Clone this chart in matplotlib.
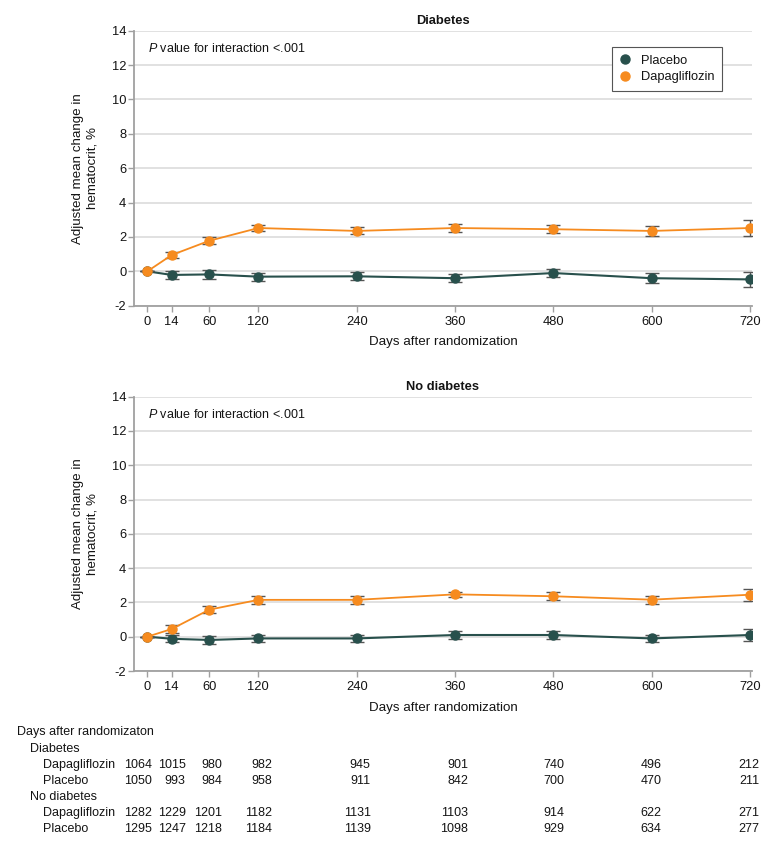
import numpy as np
import matplotlib
matplotlib.use("Agg")
import matplotlib.pyplot as plt
import matplotlib.transforms as mtransforms
from matplotlib.lines import Line2D

plt.rcParams["font.family"] = ["Liberation Sans", "DejaVu Sans"]
plt.rcParams["mathtext.fontset"] = "custom"
plt.rcParams["mathtext.it"] = "Liberation Sans:italic"
plt.rcParams["axes.unicode_minus"] = False

# data
days = [0, 14, 60, 120, 240, 360, 480, 600, 720]

diab_dapa = [0, 0.95, 1.78, 2.52, 2.35, 2.52, 2.45, 2.35, 2.52]
diab_dapa_err = [0, 0.2, 0.19, 0.2, 0.2, 0.26, 0.22, 0.29, 0.44]
diab_plac = [0, -0.21, -0.18, -0.31, -0.29, -0.40, -0.10, -0.40, -0.47]
diab_plac_err = [0, 0.25, 0.25, 0.23, 0.23, 0.22, 0.25, 0.28, 0.43]

nodiab_dapa = [0, 0.45, 1.58, 2.15, 2.15, 2.47, 2.36, 2.16, 2.45]
nodiab_dapa_err = [0, 0.23, 0.22, 0.23, 0.22, 0.16, 0.24, 0.23, 0.35]
nodiab_plac = [0, -0.12, -0.19, -0.1, -0.1, 0.1, 0.1, -0.1, 0.1]
nodiab_plac_err = [0, 0.21, 0.22, 0.21, 0.2, 0.24, 0.25, 0.22, 0.34]

# patients at risk
n_diab_dapa = [1064, 1015, 980, 982, 945, 901, 740, 496, 212]
n_diab_plac = [1050, 993, 984, 958, 911, 842, 700, 470, 211]
n_nodiab_dapa = [1282, 1229, 1201, 1182, 1131, 1103, 914, 622, 271]
n_nodiab_plac = [1295, 1247, 1218, 1184, 1139, 1098, 929, 634, 277]

c_plac = "#28504c"
c_dapa = "#f68b1f"
c_err = "#555555"
c_spine = "#a0a0a0"
c_text = "#141414"
fs = 9.3

# uneven spacing of the day axis (early visits are stretched)
knot_days = np.array([-140, 0, 14, 60, 120, 840])
knot_pos = np.array([-2.5, 0, 0.248, 0.631, 1.129, 7.129])


def fwd(x):
    return np.interp(x, knot_days, knot_pos)


def inv(p):
    return np.interp(p, knot_pos, knot_days)


fig = plt.figure(figsize=(7.8, 8.47), dpi=100)
W, H = 780, 847


def px_axes(left, top, right, bottom):
    return fig.add_axes([left / W, 1 - bottom / H, (right - left) / W, (bottom - top) / H])


ax1 = px_axes(134, 30.7, 752, 305.7)
ax2 = px_axes(134, 396.7, 752, 671)

panels = [
    (ax1, "Diabetes", diab_plac, diab_plac_err, diab_dapa, diab_dapa_err),
    (ax2, "No diabetes", nodiab_plac, nodiab_plac_err, nodiab_dapa, nodiab_dapa_err),
]

for ax, title, plac, plac_err, dapa, dapa_err in panels:
    ax.set_xscale("function", functions=(fwd, inv))
    ax.errorbar(days, plac, yerr=plac_err, fmt="o-", color=c_plac, ecolor=c_err,
                elinewidth=1, capsize=5, capthick=1, markersize=6.5, lw=1.5, zorder=3)
    ax.errorbar(days, dapa, yerr=dapa_err, fmt="o-", color=c_dapa, ecolor=c_err,
                elinewidth=1, capsize=5, capthick=1, markersize=6.5, lw=1.3, zorder=4)
    ax.set_xlim(-7.6, 722.4)
    ax.set_ylim(-2, 14)
    ax.set_yticks(range(-2, 15, 2))
    ax.set_xticks(days)
    ax.set_xticklabels([str(d) for d in days])
    ax.yaxis.grid(True, color="#dedede", lw=1.3)
    ax.set_axisbelow(True)
    for s in ["top", "right"]:
        ax.spines[s].set_visible(False)
    for s in ["left", "bottom"]:
        ax.spines[s].set_color(c_spine)
        ax.spines[s].set_linewidth(1.3)
    ax.tick_params(axis="both", colors=c_spine, labelcolor=c_text, labelsize=fs,
                   length=4.5, width=1)
    ax.tick_params(axis="y", pad=1)
    ax.tick_params(axis="x", pad=3)
    ax.set_xlabel("Days after randomization", fontsize=fs + 0.3, color=c_text, labelpad=6)
    ax.text(0.5, 1 + 10 / 275, title, transform=ax.transAxes, ha="center", va="center",
            fontsize=fs, fontweight="bold", color=c_text)
    ax.text(0.0227, 1 - 18 / 275, r"$\mathit{P}$ value for interaction <.001",
            transform=ax.transAxes, ha="left", va="center", fontsize=9, color=c_text)
    # y label
    bb = ax.get_position()
    fig.text(85 / W, bb.y0 + bb.height / 2, "Adjusted mean change in\nhematocrit, %",
             rotation=90, ha="center", va="center", multialignment="center",
             fontsize=fs + 0.3, color=c_text, linespacing=1.3)

handles = [
    Line2D([], [], marker="o", linestyle="none", color=c_plac, markersize=6.5),
    Line2D([], [], marker="o", linestyle="none", color=c_dapa, markersize=6.5),
]
leg = ax1.legend(handles, ["Placebo", "Dapagliflozin"], loc="upper right",
                 bbox_to_anchor=((722 - 134) / 618, 1 - (47 - 30.7) / 275),
                 borderaxespad=0, fancybox=False, fontsize=fs, handlelength=0.8,
                 handletextpad=0.8, labelspacing=0.35, borderpad=0.6, framealpha=1)
leg.get_frame().set_edgecolor("#555555")
leg.get_frame().set_linewidth(0.8)
for t in leg.get_texts():
    t.set_color(c_text)

# number at risk table
row_y = [732, 749, 765, 781, 797, 813, 829]
col_offset_px = [5, 14, 13, 14, 14, 13, 11, 10, 9]
fig.text(16.7 / W, 1 - row_y[0] / H, "Days after randomizaton", ha="left", va="center",
         fontsize=9, color=c_text)
rows = [
    (row_y[1], 30, "Diabetes", None),
    (row_y[2], 43, "Dapagliflozin", n_diab_dapa),
    (row_y[3], 43, "Placebo", n_diab_plac),
    (row_y[4], 30, "No diabetes", None),
    (row_y[5], 43, "Dapagliflozin", n_nodiab_dapa),
    (row_y[6], 43, "Placebo", n_nodiab_plac),
]
blend = mtransforms.blended_transform_factory(ax2.transData, fig.transFigure)
for y, x, label, counts in rows:
    fig.text(x / W, 1 - y / H, label, ha="left", va="center", fontsize=9, color=c_text)
    if counts is None:
        continue
    for d, n, off in zip(days, counts, col_offset_px):
        tr = blend + mtransforms.ScaledTranslation(off / 100, 0, fig.dpi_scale_trans)
        fig.text(d, 1 - y / H, str(n), transform=tr, ha="right", va="center",
                 fontsize=9, color=c_text)

fig.savefig("out.png", dpi=100)
